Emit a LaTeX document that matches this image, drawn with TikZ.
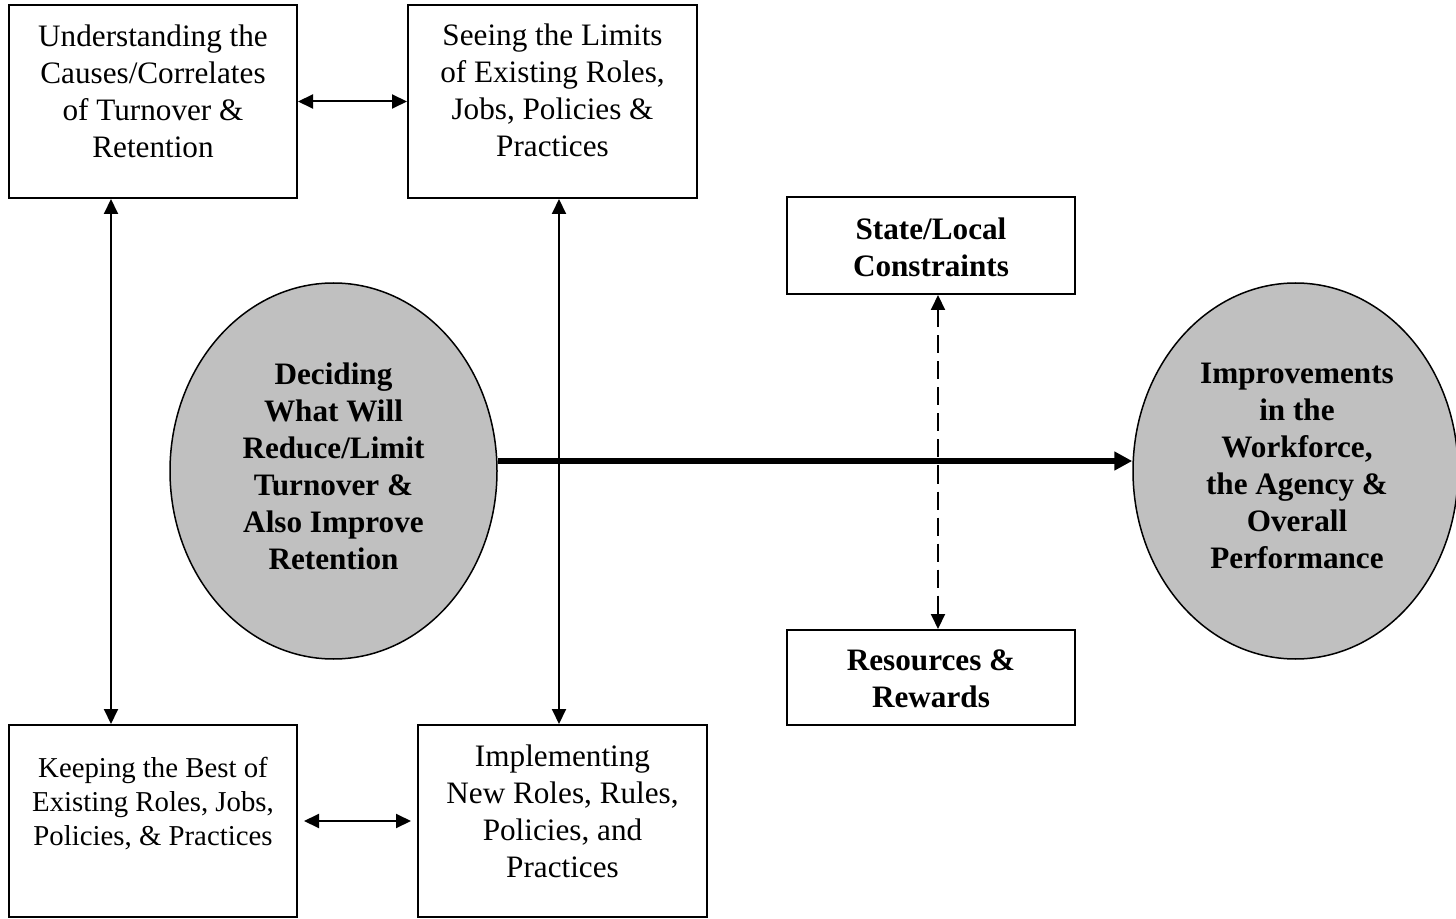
\documentclass[tikz,border=0pt]{standalone}
\usepackage{fontspec}
\setmainfont{Liberation Serif}
\usetikzlibrary{arrows.meta,shapes.geometric}
\definecolor{ovalgray}{RGB}{192,192,192}
\tikzset{
  box/.style={draw, line width=1pt, inner sep=0pt},
  txt/.style={align=center, inner sep=0pt, font=\fontsize{15.6}{18.5}\selectfont},
  smalltxt/.style={align=center, inner sep=0pt, font=\fontsize{14.4}{17}\selectfont},
  btxt/.style={align=center, inner sep=0pt, font=\fontsize{15.6}{18.5}\selectfont\bfseries},
  oval/.style={ellipse, draw, line width=0.75pt, fill=ovalgray, inner sep=0pt},
  link/.style={line width=1pt, {Triangle[length=7.5pt,width=7pt]}-{Triangle[length=7.5pt,width=7pt]}},
  dashlink/.style={link, dash pattern=on 9pt off 4pt},
  mainflow/.style={line width=2.75pt, -{Triangle[length=9pt,width=9pt]}},
}
\begin{document}
\begin{tikzpicture}[x=0.5pt, y=-0.5pt]
\useasboundingbox (0,0) rectangle (1456,919);

% boxes on the left
\node[box, minimum width=144pt, minimum height=96.5pt] (A) at (153,101.5) {};
\node[txt] (At) at (153,91) {Understanding the\\Causes/Correlates\\of Turnover \&\\Retention};

\node[box, minimum width=144.5pt, minimum height=96.5pt] (B) at (552.5,101.5) {};
\node[txt] (Bt) at (552.5,90.5) {Seeing the Limits\\of Existing Roles,\\Jobs, Policies \&\\Practices};

\node[box, minimum width=144pt, minimum height=96pt] (E) at (153,821) {};
\node[smalltxt] (Et) at (153,804) {Keeping the Best of\\Existing Roles, Jobs,\\Policies, \& Practices};

\node[box, minimum width=144.5pt, minimum height=96pt] (F) at (562.5,821) {};
\node[txt] (Ft) at (562.5,811) {Implementing\\New Roles, Rules,\\Policies, and\\Practices};

% constraint boxes
\node[box, minimum width=144pt, minimum height=48.5pt] (C) at (931,245.5) {};
\node[btxt] (Ct) at (931,247) {State/Local\\Constraints};

\node[box, minimum width=144pt, minimum height=47.5pt] (D) at (931,677.5) {};
\node[btxt] (Dt) at (931,679) {Resources \&\\Rewards};

% ovals
\node[oval, minimum width=163.5pt, minimum height=188pt] (O1) at (333.5,471) {};
\node[btxt] (O1t) at (333.5,466) {Deciding\\What Will\\Reduce/Limit\\Turnover \&\\Also Improve\\Retention};

\node[oval, minimum width=162.5pt, minimum height=188pt] (O2) at (1295.5,471) {};
\node[btxt] (O2t) at (1297,466) {Improvements\\in the\\Workforce,\\the Agency \&\\Overall\\Performance};

% guide coordinates for connectors
\coordinate (colA) at (111,0);
\coordinate (colB) at (559,0);
\coordinate (colC) at (938,0);
\coordinate (rowM) at (0,461);

% connectors
\draw[link] (A.east) -- (B.west);
\draw[link, shorten <=3pt, shorten >=3pt] (E.east) -- (F.west);
\draw[link] (A.south -| colA) -- (E.north -| colA);
\draw[link] (B.south -| colB) -- (F.north -| colB);
\draw[dashlink] (C.south -| colC) -- (D.north -| colC);
\draw[mainflow] (O1.east |- rowM) -- (O2.west |- rowM);
\end{tikzpicture}
\end{document}
